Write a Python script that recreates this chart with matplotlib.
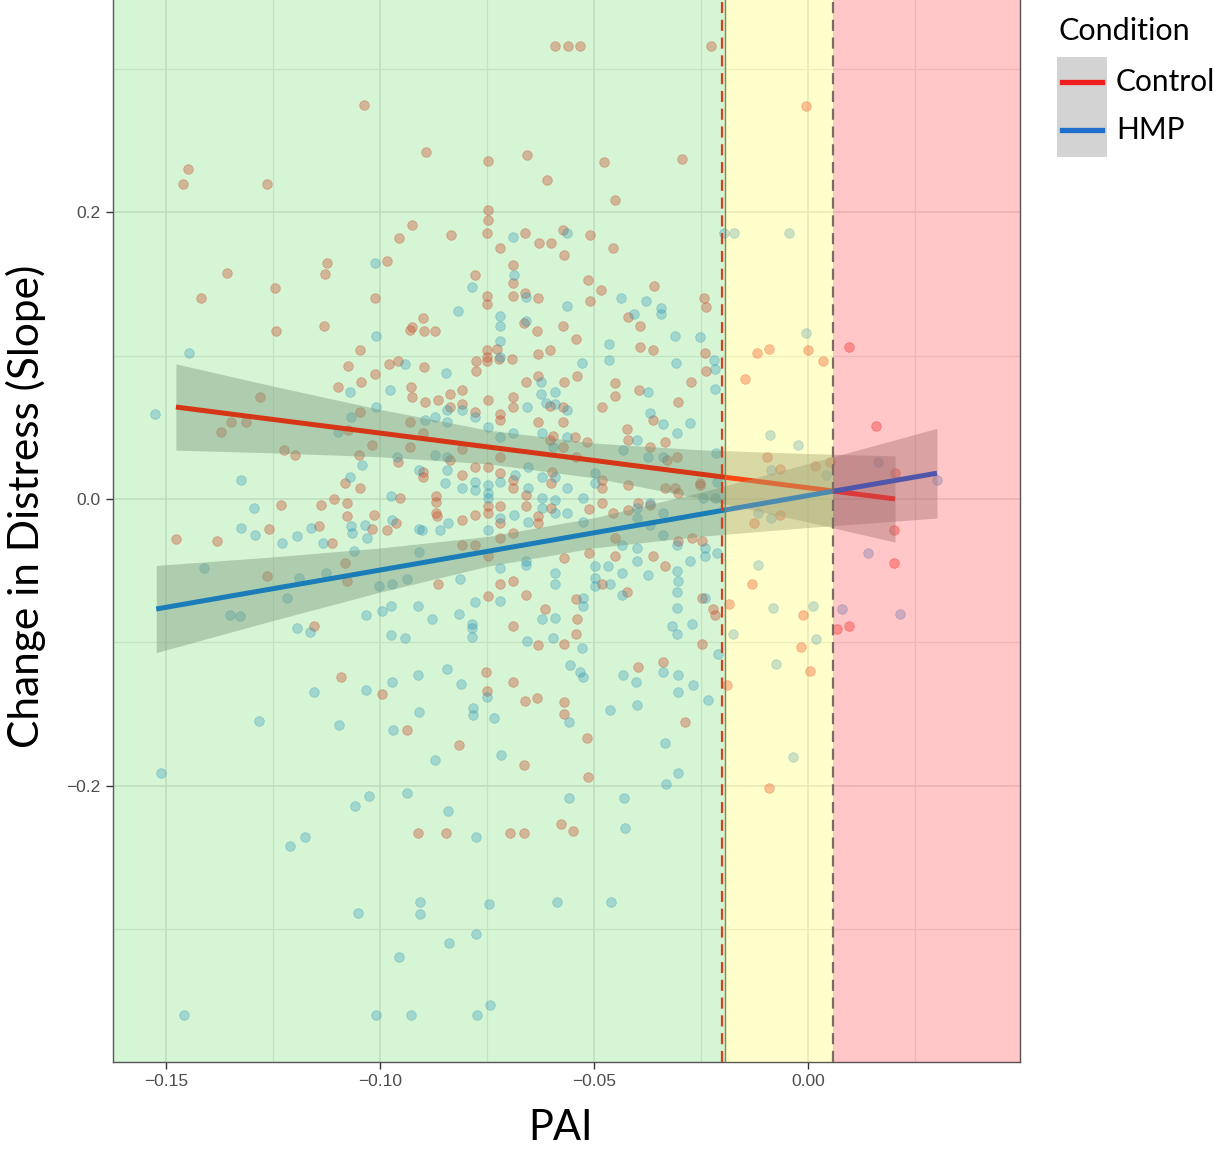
import matplotlib.pyplot as plt
from matplotlib.lines import Line2D
from matplotlib.patches import Rectangle

# ---- points (PAI, change in distress slope) -----------------------------
ctrl_x = [
    -0.1037, -0.1449, -0.1460, -0.1264, -0.0925, -0.0956, -0.1124, -0.0984, -0.1129, -0.1357,
    -0.1245, -0.1418, -0.1012, -0.1131, -0.1243, -0.0925, -0.0930, -0.1047, -0.1075, -0.0979,
    -0.0958, -0.1012, -0.1044, -0.1098, -0.0928, -0.0925, -0.1280, -0.0591, -0.0561, -0.0533,
    -0.0227, -0.0893, -0.0748, -0.0657, -0.0610, -0.0477, -0.0294, -0.0451, -0.0748, -0.0748,
    -0.0750, -0.0834, -0.0661, -0.0572, -0.0509, -0.0629, -0.0600, -0.0720, -0.0456, -0.0570,
    -0.0689, -0.0778, -0.0689, -0.0514, -0.0360, -0.0484, -0.0750, -0.0750, -0.0689, -0.0661,
    -0.0631, -0.0509, -0.0243, -0.0238, -0.0900, -0.0897, -0.0871, -0.0664, -0.0572, -0.0633,
    -0.0421, -0.0393, -0.0542, -0.0393, -0.0362, -0.0241, -0.0750, -0.0750, -0.0750, -0.0727,
    -0.0776, -0.0722, -0.0692, -0.0631, -0.0603, -0.0897, -0.0776, -0.0659, -0.0631, -0.0540,
    -0.0451, -0.0395, -0.0273, -0.0238, -0.0836, -0.0808, -0.0005, -0.0119, -0.0091, 0.0000,
    -0.0147, 0.0035, 0.0096, -0.0570, -0.0451, -0.0689, -0.1348, -0.1313, -0.1371, -0.1224,
    -0.1199, -0.1049, -0.1019, -0.1075, -0.1047, -0.0930, -0.0930, -0.0958, -0.1082, -0.1047,
    -0.0953, -0.1107, -0.1077, -0.1138, -0.1231, -0.1077, -0.1014, -0.1143, -0.1259, -0.1019,
    -0.0984, -0.0963, -0.1477, -0.1381, -0.1112, -0.1082, -0.1264, -0.1077, -0.1154, -0.1091,
    -0.0995, -0.0937, -0.0911, -0.0815, -0.0664, -0.0516, -0.0514, -0.0287, -0.0846, -0.0696,
    -0.0664, -0.0577, -0.0549, -0.0091, -0.0895, -0.0864, -0.0836, -0.0808, -0.0778, -0.0748,
    -0.0720, -0.0720, -0.0689, -0.0603, -0.0572, -0.0572, -0.0631, -0.0900, -0.0900, -0.0900,
    -0.0836, -0.0808, -0.0808, -0.0778, -0.0748, -0.0720, -0.0720, -0.0689, -0.0689, -0.0659,
    -0.0869, -0.0869, -0.0869, -0.0867, -0.0808, -0.0778, -0.0748, -0.0748, -0.0720, -0.0720,
    -0.0659, -0.0631, -0.0631, -0.0603, -0.0598, -0.0600, -0.0600, -0.0808, -0.0778, -0.0720,
    -0.0689, -0.0748, -0.0720, -0.0689, -0.0748, -0.0659, -0.0614, -0.0570, -0.0864, -0.0689,
    -0.0631, -0.0570, -0.0752, -0.0689, -0.0750, -0.0661, -0.0633, -0.0570, -0.0570, -0.0596,
    -0.0572, -0.0544, -0.0516, -0.0542, -0.0423, -0.0421, -0.0362, -0.0304, -0.0334, -0.0369,
    -0.0306, -0.0329, -0.0481, -0.0481, -0.0421, -0.0334, -0.0311, -0.0304, -0.0252, -0.0481,
    -0.0512, -0.0456, -0.0397, -0.0369, -0.0421, -0.0451, -0.0512, -0.0451, -0.0362, -0.0334,
    -0.0304, -0.0271, -0.0248, -0.0481, -0.0423, -0.0542, -0.0540, -0.0542, -0.0248, -0.0222,
    -0.0217, -0.0248, -0.0397, -0.0339, -0.0481, -0.0252, -0.0096, -0.0065, 0.0016, 0.0051,
    -0.0126, -0.0065, -0.0131, -0.0185, -0.0012, -0.0016, 0.0005, -0.0189, 0.0159, 0.0203,
    0.0201, 0.0201, 0.0068, 0.0096,
]
ctrl_y = [
    0.275, 0.230, 0.220, 0.220, 0.191, 0.182, 0.165, 0.166, 0.157, 0.158,
    0.147, 0.140, 0.140, 0.121, 0.117, 0.120, 0.118, 0.104, 0.093, 0.094,
    0.096, 0.087, 0.082, 0.078, 0.078, 0.071, 0.071, 0.316, 0.316, 0.316,
    0.316, 0.242, 0.236, 0.240, 0.223, 0.235, 0.237, 0.209, 0.202, 0.195,
    0.186, 0.184, 0.186, 0.188, 0.184, 0.179, 0.179, 0.175, 0.175, 0.170,
    0.163, 0.156, 0.151, 0.153, 0.149, 0.146, 0.142, 0.136, 0.142, 0.144,
    0.140, 0.138, 0.140, 0.134, 0.126, 0.117, 0.117, 0.123, 0.121, 0.117,
    0.127, 0.121, 0.112, 0.106, 0.104, 0.102, 0.104, 0.099, 0.096, 0.105,
    0.096, 0.098, 0.098, 0.101, 0.104, 0.092, 0.089, 0.082, 0.086, 0.086,
    0.081, 0.076, 0.082, 0.089, 0.073, 0.076, 0.274, 0.102, 0.105, 0.104,
    0.084, 0.096, 0.106, 0.082, 0.072, 0.071, 0.054, 0.054, 0.047, 0.034,
    0.031, 0.031, 0.038, 0.048, 0.061, 0.054, 0.036, 0.026, 0.011, 0.008,
    0.001, 0.000, -0.003, -0.004, -0.004, -0.012, -0.011, -0.019, -0.021, -0.021,
    -0.022, -0.017, -0.028, -0.029, -0.031, -0.045, -0.054, -0.057, -0.089, -0.124,
    -0.136, -0.161, -0.233, -0.172, -0.186, -0.167, -0.194, -0.156, -0.233, -0.233,
    -0.233, -0.227, -0.232, -0.202, 0.068, 0.069, 0.064, 0.066, 0.061, 0.069,
    0.059, 0.055, 0.064, 0.065, 0.064, 0.054, 0.054, 0.046, 0.019, 0.015,
    0.027, 0.035, 0.017, 0.022, 0.022, 0.029, 0.018, 0.013, 0.008, 0.003,
    0.002, -0.002, -0.010, -0.012, -0.015, -0.011, -0.005, -0.010, -0.005, -0.017,
    -0.005, -0.012, -0.017, 0.041, 0.019, 0.011, -0.006, -0.032, -0.032, -0.027,
    -0.024, -0.040, -0.059, -0.057, -0.068, -0.067, -0.077, -0.041, -0.059, -0.089,
    -0.102, -0.101, -0.121, -0.128, -0.134, -0.141, -0.139, -0.142, -0.150, 0.044,
    0.036, 0.043, 0.040, 0.029, 0.049, 0.041, 0.055, 0.068, 0.040, 0.036,
    0.029, 0.027, 0.013, 0.008, 0.010, 0.008, 0.008, 0.004, 0.010, -0.003,
    -0.007, -0.010, -0.003, -0.004, -0.008, -0.027, -0.038, -0.040, -0.040, -0.047,
    -0.029, -0.027, -0.029, -0.059, -0.065, -0.070, -0.084, -0.094, -0.069, -0.077,
    -0.081, -0.101, -0.117, -0.114, 0.064, 0.011, 0.029, 0.021, 0.023, 0.026,
    -0.017, -0.011, -0.059, -0.073, -0.081, -0.103, -0.120, -0.130, 0.051, 0.018,
    -0.022, -0.045, -0.091, -0.089,
]

hmp_x = [
    -0.1012, -0.1009, -0.1446, -0.0942, -0.1070, -0.0977, -0.0563, -0.0689, -0.0687, -0.0785,
    -0.0659, -0.0818, -0.0720, -0.0720, -0.0659, -0.0563, -0.0437, -0.0379, -0.0407, -0.0343,
    -0.0343, -0.0311, -0.0252, -0.0720, -0.0465, -0.0465, -0.0528, -0.0308, -0.0220, -0.0217,
    -0.0846, -0.0624, -0.0591, -0.0374, -0.0217, -0.0720, -0.0624, -0.0196, -0.0173, -0.0044,
    -0.0005, -0.1526, -0.1009, -0.1068, -0.1098, -0.1042, -0.0960, -0.0909, -0.1325, -0.1070,
    -0.0974, -0.1294, -0.1325, -0.1292, -0.1229, -0.1194, -0.1161, -0.1133, -0.1068, -0.1065,
    -0.1035, -0.1030, -0.0972, -0.1061, -0.0909, -0.0909, -0.1411, -0.1126, -0.1189, -0.1002,
    -0.0972, -0.0937, -0.1217, -0.1350, -0.1327, -0.1194, -0.1164, -0.1033, -0.0995, -0.0974,
    -0.0911, -0.0974, -0.0942, -0.0911, -0.1154, -0.1033, -0.0972, -0.0909, -0.1283, -0.1096,
    -0.0970, -0.1512, -0.1026, -0.1058, -0.0937, -0.1175, -0.1210, -0.0907, -0.1051, -0.0907,
    -0.0956, -0.1458, -0.1009, -0.0928, -0.0871, -0.0717, -0.0558, -0.0334, -0.0304, -0.0332,
    -0.0841, -0.0558, -0.0430, -0.0428, -0.0776, -0.0745, -0.0586, -0.0460, -0.0776, -0.0839,
    -0.0743, -0.0773, -0.0035, -0.0895, -0.0871, -0.0843, -0.0843, -0.0808, -0.0778, -0.0748,
    -0.0720, -0.0689, -0.0657, -0.0612, -0.0591, -0.0563, -0.0621, -0.0596, -0.0563, -0.0871,
    -0.0843, -0.0843, -0.0848, -0.0808, -0.0778, -0.0778, -0.0748, -0.0748, -0.0748, -0.0720,
    -0.0685, -0.0654, -0.0654, -0.0621, -0.0621, -0.0591, -0.0591, -0.0563, -0.0563, -0.0720,
    -0.0687, -0.0654, -0.0621, -0.0591, -0.0902, -0.0860, -0.0841, -0.0748, -0.0879, -0.0813,
    -0.0778, -0.0720, -0.0720, -0.0659, -0.0659, -0.0621, -0.0591, -0.0591, -0.0591, -0.0815,
    -0.0785, -0.0785, -0.0785, -0.0657, -0.0596, -0.0843, -0.0811, -0.0750, -0.0783, -0.0783,
    -0.0734, -0.0556, -0.0432, -0.0400, -0.0374, -0.0339, -0.0369, -0.0339, -0.0306, -0.0276,
    -0.0215, -0.0213, -0.0245, -0.0498, -0.0498, -0.0526, -0.0526, -0.0400, -0.0369, -0.0339,
    -0.0400, -0.0369, -0.0435, -0.0400, -0.0339, -0.0306, -0.0276, -0.0241, -0.0213, -0.0241,
    -0.0400, -0.0498, -0.0467, -0.0435, -0.0498, -0.0498, -0.0463, -0.0374, -0.0306, -0.0304,
    -0.0306, -0.0435, -0.0526, -0.0526, -0.0306, -0.0318, -0.0306, -0.0271, -0.0241, -0.0528,
    -0.0533, -0.0526, -0.0432, -0.0402, -0.0339, -0.0304, -0.0269, -0.0304, -0.0210, -0.0234,
    -0.0463, -0.0400, -0.0217, -0.0089, -0.0023, -0.0086, 0.0042, -0.0117, -0.0086, -0.0117,
    -0.0082, 0.0012, -0.0175, 0.0019, -0.0075, 0.0164, 0.0301, 0.0140, 0.0079, 0.0215,
]
hmp_y = [
    0.165, 0.114, 0.102, 0.094, 0.075, 0.076, 0.186, 0.183, 0.156, 0.148,
    0.141, 0.131, 0.128, 0.121, 0.124, 0.135, 0.140, 0.138, 0.129, 0.133,
    0.129, 0.114, 0.113, 0.110, 0.108, 0.097, 0.095, 0.095, 0.097, 0.091,
    0.088, 0.082, 0.075, 0.075, 0.077, 0.099, 0.073, 0.186, 0.186, 0.186,
    0.116, 0.059, 0.064, 0.057, 0.047, 0.024, 0.029, 0.020, 0.013, 0.015,
    0.002, -0.006, -0.020, -0.025, -0.031, -0.026, -0.020, -0.031, -0.019, -0.024,
    -0.018, -0.027, -0.015, -0.036, -0.021, -0.037, -0.048, -0.052, -0.055, -0.061,
    -0.059, -0.056, -0.069, -0.081, -0.082, -0.090, -0.093, -0.081, -0.078, -0.075,
    -0.075, -0.095, -0.097, -0.123, -0.135, -0.133, -0.128, -0.149, -0.155, -0.158,
    -0.161, -0.191, -0.207, -0.214, -0.205, -0.236, -0.242, -0.281, -0.289, -0.290,
    -0.320, -0.360, -0.360, -0.360, -0.182, -0.179, -0.156, -0.170, -0.191, -0.199,
    -0.218, -0.209, -0.209, -0.230, -0.236, -0.283, -0.281, -0.281, -0.304, -0.310,
    -0.353, -0.360, -0.180, 0.055, 0.057, 0.062, 0.054, 0.062, 0.057, 0.050,
    0.043, 0.046, 0.064, 0.067, 0.066, 0.062, 0.046, 0.036, 0.043, 0.031,
    0.029, 0.020, 0.011, 0.008, 0.012, 0.006, 0.010, 0.004, 0.001, 0.012,
    0.017, 0.008, 0.022, 0.015, 0.001, 0.015, -0.001, 0.008, -0.010, -0.013,
    -0.011, -0.016, -0.006, -0.010, -0.022, -0.022, -0.017, -0.022, -0.084, -0.056,
    -0.072, -0.048, -0.071, -0.043, -0.046, -0.084, -0.083, -0.052, -0.059, -0.080,
    -0.087, -0.090, -0.096, -0.099, -0.097, -0.119, -0.129, -0.138, -0.146, -0.151,
    -0.153, -0.116, 0.034, 0.041, 0.029, 0.029, 0.060, 0.052, 0.046, 0.053,
    0.032, 0.012, 0.001, 0.018, 0.011, 0.001, -0.016, -0.006, -0.003, -0.010,
    -0.013, -0.018, -0.032, -0.034, -0.025, -0.032, -0.043, -0.034, -0.038, -0.040,
    -0.043, -0.047, -0.047, -0.052, -0.055, -0.061, -0.059, -0.053, -0.050, -0.057,
    -0.065, -0.067, -0.069, -0.075, -0.076, -0.089, -0.094, -0.087, -0.069, -0.104,
    -0.121, -0.124, -0.123, -0.128, -0.121, -0.123, -0.130, -0.135, -0.108, -0.140,
    -0.147, -0.144, 0.001, 0.045, 0.038, 0.020, 0.017, -0.010, -0.013, -0.046,
    -0.076, -0.075, -0.094, -0.098, -0.115, 0.026, 0.013, -0.038, -0.077, -0.080,
]

# ---- linear fits and 95% bands, read at fixed PAI values ----------------
ctrl_fit_x = [-0.1477, -0.125, -0.10, -0.075, -0.05, -0.025, 0.0, 0.0203]
ctrl_fit_y = [0.0642, 0.0555, 0.0460, 0.0364, 0.0269, 0.0173, 0.0078, 0.0]
ctrl_lo = [0.0341, 0.0322, 0.0295, 0.0246, 0.0148, 0.0003, -0.0161, -0.0301]
ctrl_hi = [0.0943, 0.0788, 0.0625, 0.0482, 0.0390, 0.0343, 0.0317, 0.0301]

hmp_fit_x = [-0.1523, -0.125, -0.10, -0.075, -0.05, -0.025, 0.0, 0.0301]
hmp_fit_y = [-0.0768, -0.0626, -0.0496, -0.0366, -0.0236, -0.0106, 0.0024, 0.018]
hmp_lo = [-0.1072, -0.0848, -0.0650, -0.0470, -0.0341, -0.0260, -0.0199, -0.0133]
hmp_hi = [-0.0464, -0.0404, -0.0342, -0.0262, -0.0131, 0.0048, 0.0247, 0.0493]

# region boundaries on PAI
jn_low = -0.0201
zone_split = -0.0194
jn_high = 0.0058

X_LIM = (-0.1624, 0.0495)
Y_LIM = (-0.393, 0.3483)

CTRL_PT = "#F03C3C"
HMP_PT = "#2C86D8"
CTRL_LINE = "#FF1A1A"
HMP_LINE = "#1F6FDB"
TITLE_FONT = ["Lato", "DejaVu Sans"]
TICK_FONT = ["Liberation Sans", "DejaVu Sans"]

W, H = 1225, 1150
fig = plt.figure(figsize=(W / 100, H / 100), dpi=100)
ax = fig.add_axes([113 / W, 1 - 1062 / H, (1020 - 113) / W, 1062 / H])
ax.set_facecolor("white")

# points
ax.scatter(ctrl_x, ctrl_y, s=48, color=CTRL_PT, alpha=0.38, linewidths=0.6,
           edgecolors=CTRL_PT, zorder=2)
ax.scatter(hmp_x, hmp_y, s=48, color=HMP_PT, alpha=0.3, linewidths=0.6,
           edgecolors=HMP_PT, zorder=2)

# ribbons + fitted lines (ribbon of a group drawn before its line)
ax.fill_between(ctrl_fit_x, ctrl_lo, ctrl_hi, color="#8f8f8f", alpha=0.42, lw=0, zorder=3)
ax.plot(ctrl_fit_x, ctrl_fit_y, color=CTRL_LINE, lw=3.6, solid_capstyle="butt", zorder=3.1)
ax.fill_between(hmp_fit_x, hmp_lo, hmp_hi, color="#8f8f8f", alpha=0.42, lw=0, zorder=3.2)
ax.plot(hmp_fit_x, hmp_fit_y, color=HMP_LINE, lw=3.6, solid_capstyle="butt", zorder=3.3)

# tinted zones laid over the data
ax.axvspan(X_LIM[0] - 0.01, zone_split, color="#08C408", alpha=0.17, lw=0, zorder=5)
ax.axvspan(zone_split, jn_high, color="#FFFF00", alpha=0.2, lw=0, zorder=5)
ax.axvspan(jn_high, X_LIM[1] + 0.01, color="#FF0000", alpha=0.22, lw=0, zorder=5)

ax.axvline(zone_split, color="#8c8450", lw=1.0, zorder=6)
ax.axvline(jn_low, color="#d8401e", lw=1.6, ls=(0, (5, 3)), zorder=6)
ax.axvline(jn_high, color="#7a6e64", lw=1.6, ls=(0, (5, 3)), zorder=6)

ax.set_xlim(*X_LIM)
ax.set_ylim(*Y_LIM)

ax.set_xticks([-0.15, -0.10, -0.05, 0.00])
ax.set_xticklabels(["\u22120.15", "\u22120.10", "\u22120.05", "0.00"])
ax.set_xticks([-0.125, -0.075, -0.025, 0.025], minor=True)
ax.set_yticks([-0.2, 0.0, 0.2])
ax.set_yticklabels(["\u22120.2", "0.0", "0.2"])
ax.set_yticks([-0.3, -0.1, 0.1, 0.3], minor=True)
ax.grid(True, which="major", color="#E3E3E3", lw=1.1, zorder=0.5)
ax.grid(True, which="minor", color="#EAEAEA", lw=0.9, zorder=0.5)
ax.set_axisbelow(True)
ax.tick_params(which="major", length=5, width=1, color="#333333",
               labelsize=12.5, labelcolor="#4D4D4D", pad=4)
ax.tick_params(which="minor", length=0)
for lab in ax.get_xticklabels() + ax.get_yticklabels():
    lab.set_family(TICK_FONT)

for side in ("left", "bottom", "right"):
    ax.spines[side].set_color("#555555")
    ax.spines[side].set_linewidth(1.0)
ax.spines["top"].set_visible(False)

# axis titles
fig.text(560 / W, 1 - 1128 / H, "PAI", ha="center", va="center",
         fontsize=30, family=TITLE_FONT)
fig.text(26 / W, 1 - 506 / H, "Change in Distress (Slope)", ha="center", va="center",
         rotation=90, fontsize=30.5, family=TITLE_FONT)

# legend drawn by hand to match the boxed keys
fig.add_artist(Rectangle((1057 / W, 1 - 157 / H), 50 / W, 100 / H,
                         transform=fig.transFigure, color="#D3D3D3", lw=0))
fig.add_artist(Line2D([1062 / W, 1102 / W], [1 - 82 / H] * 2, transform=fig.transFigure,
                      color="#F01E1E", lw=3.8))
fig.add_artist(Line2D([1062 / W, 1102 / W], [1 - 130 / H] * 2, transform=fig.transFigure,
                      color="#1E6ECC", lw=3.8))
fig.text(1058 / W, 1 - 31 / H, "Condition", ha="left", va="center",
         fontsize=22, family=TITLE_FONT)
fig.text(1116 / W, 1 - 82 / H, "Control", ha="left", va="center",
         fontsize=21.5, family=TITLE_FONT)
fig.text(1116 / W, 1 - 130 / H, "HMP", ha="left", va="center",
         fontsize=21.5, family=TITLE_FONT)

fig.savefig("out.png", dpi=100)
